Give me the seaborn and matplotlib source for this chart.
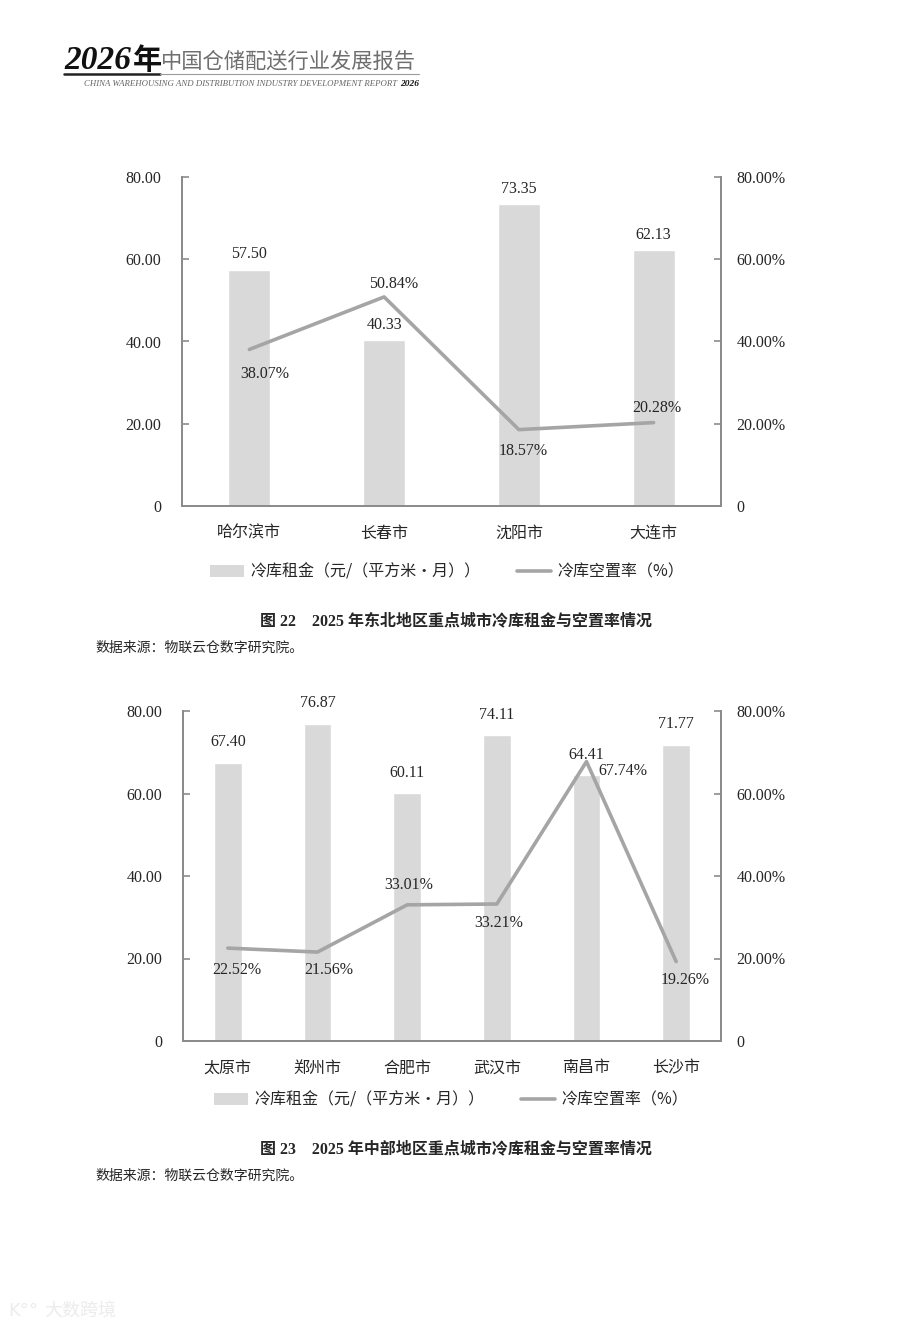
import numpy as np
import pandas as pd
import matplotlib
matplotlib.use("Agg")
import matplotlib.pyplot as plt
import seaborn as sns
from matplotlib.patches import Patch
from matplotlib.lines import Line2D
from matplotlib.ticker import FixedLocator

# ---------------- data ----------------
cities_ne = ["哈尔滨市", "长春市", "沈阳市", "大连市"]
rent_ne = [57.50, 40.33, 73.35, 62.13]
vacancy_ne = [38.07, 50.84, 18.57, 20.28]

cities_c = ["太原市", "郑州市", "合肥市", "武汉市", "南昌市", "长沙市"]
rent_c = [67.40, 76.87, 60.11, 74.11, 64.41, 71.77]
vacancy_c = [22.52, 21.56, 33.01, 33.21, 67.74, 19.26]

left_ticks = ["0", "20.00", "40.00", "60.00", "80.00"]
right_ticks = ["0", "20.00%", "40.00%", "60.00%", "80.00%"]
legend_bar = "冷库租金（元/（平方米·月））"
legend_line = "冷库空置率（%）"
caption_ne = "图 22　2025 年东北地区重点城市冷库租金与空置率情况"
caption_c = "图 23　2025 年中部地区重点城市冷库租金与空置率情况"
source_text = "数据来源：物联云仓数字研究院。"

# ---------------- style ----------------
sns.set_style("white")
FAM = ["Liberation Serif", "Noto Sans CJK SC", "DejaVu Sans"]
CJK = ["Noto Sans CJK SC", "DejaVu Sans"]
plt.rcParams["font.family"] = FAM
TXT = "#262626"
BAR = "#d9d9d9"
LINE = "#a5a5a5"
SPINE = "#8c8c8c"
FS = 11.5

W, H = 900, 1330
fig = plt.figure(figsize=(W / 100, H / 100), dpi=100)
fig.patch.set_facecolor("white")


def fx(x):
    return x / W


def fy(y):
    return 1 - y / H


def draw_chart(rect, cats, rent, vac, bar_pad, offsets, legend_xy, cap_y, src_y, caption):
    l, t, r, b = rect
    ax = fig.add_axes([fx(l), fy(b), (r - l) / W, (b - t) / H])
    df = pd.DataFrame({"city": cats, "rent": rent, "vac": vac})
    sns.barplot(data=df, x="city", y="rent", ax=ax, color=BAR, saturation=1,
                width=0.31, errorbar=None, order=cats)
    n = len(cats)
    ax.set_xlim(-0.5, n - 0.5)
    ax.set_ylim(0, 80)
    ax.set_xlabel("")
    ax.set_ylabel("")
    ax.set_yticks([0, 20, 40, 60, 80])
    ax.set_yticklabels(left_ticks, fontsize=FS, color=TXT, family=FAM)
    ax.tick_params(axis="y", direction="in", length=5, width=1.2, color=SPINE, pad=15)
    ax.set_xticks(range(n))
    ax.set_xticklabels(cats, fontsize=FS, color=TXT, family=FAM)
    ax.tick_params(axis="x", which="major", length=0, pad=14)
    ax.xaxis.set_minor_locator(FixedLocator([i + 0.5 for i in range(n - 1)]))
    ax.tick_params(axis="x", which="minor", direction="in", length=5, width=1.2, color=SPINE)
    for s in ["left", "bottom", "right"]:
        ax.spines[s].set_color(SPINE)
        ax.spines[s].set_linewidth(1.4)
    ax.spines["top"].set_visible(False)

    ax.bar_label(ax.containers[0], labels=[f"{v:.2f}" for v in rent], padding=bar_pad,
                 fontsize=FS, color=TXT, family=FAM)

    ax2 = ax.twinx()
    sns.lineplot(data=df, x="city", y="vac", ax=ax2, color=LINE, linewidth=2.6,
                 sort=False, legend=False)
    ax2.set_ylim(0, 80)
    ax2.set_xlim(-0.5, n - 0.5)
    ax2.set_ylabel("")
    ax2.set_yticks([0, 20, 40, 60, 80])
    ax2.set_yticklabels(right_ticks, fontsize=FS, color=TXT, family=FAM)
    ax2.tick_params(axis="y", direction="in", length=5, width=1.2, color=SPINE, pad=11)
    for s in ["left", "bottom", "right"]:
        ax2.spines[s].set_color(SPINE)
        ax2.spines[s].set_linewidth(1.4)
    ax2.spines["top"].set_visible(False)

    for i, (v, (dx, dy)) in enumerate(zip(vac, offsets)):
        ax2.annotate(f"{v:.2f}%", xy=(i, v), xytext=(dx * 0.72, dy * 0.72),
                     textcoords="offset points", ha="center", va="center",
                     fontsize=FS, color=TXT, family=FAM)

    handles = [Patch(facecolor=BAR, edgecolor="none"),
               Line2D([0], [0], color=LINE, linewidth=2.6)]
    fig.legend(handles, [legend_bar, legend_line], loc="center",
               bbox_to_anchor=(fx(legend_xy[0]), fy(legend_xy[1])), ncol=2,
               frameon=False, prop={"family": CJK, "size": FS},
               handlelength=2.1, handleheight=0.7, handletextpad=0.4,
               columnspacing=2.3, labelcolor=TXT)

    fig.text(fx(456), fy(cap_y), caption, ha="center", va="center", fontsize=FS,
             fontweight="bold", color=TXT, family=FAM)
    fig.text(fx(95), fy(src_y), source_text, ha="left", va="center", fontsize=10,
             color=TXT, family=FAM)
    return ax


# chart 1: north-east
draw_chart((182, 177, 721, 506), cities_ne, rent_ne, vacancy_ne, 5.5,
           [(15, -25), (9, 13), (4, -21), (3, 15)], (447, 572), 621, 648, caption_ne)

# chart 2: central
draw_chart((183, 711, 721, 1041), cities_c, rent_c, vacancy_c, 9,
           [(9, -22), (11, -18), (2, 20), (2, -19), (36, -9), (9, -18)],
           (451, 1100), 1149, 1176, caption_c)

# ---------------- header ----------------
fig.text(fx(64), fy(69), "2026", ha="left", va="baseline", fontsize=24,
         fontweight="bold", fontstyle="italic", family="Liberation Serif", color="#111111")
fig.text(fx(133), fy(69), "年", ha="left", va="baseline", fontsize=21,
         fontweight="bold", family="Noto Sans CJK SC", color="#111111")
fig.text(fx(161), fy(68), "中国仓储配送行业发展报告", ha="left", va="baseline",
         fontsize=15.3, family="Noto Sans CJK SC", color="#6f6f6f")
fig.add_artist(Line2D([fx(64), fx(160)], [fy(74), fy(74)], color="#222222",
                      linewidth=1.8, transform=fig.transFigure))
fig.add_artist(Line2D([fx(160), fx(419)], [fy(74), fy(74)], color="#9a9a9a",
                      linewidth=0.8, transform=fig.transFigure))
fig.text(fx(84), fy(84), "CHINA WAREHOUSING AND DISTRIBUTION INDUSTRY DEVELOPMENT REPORT",
         ha="left", va="center", fontsize=6.3, fontstyle="italic",
         family="Liberation Serif", color="#666666")
fig.text(fx(419), fy(84), "2026", ha="right", va="center", fontsize=6.8,
         fontstyle="italic", fontweight="bold", family="Liberation Serif", color="#111111")

# faint watermark
fig.text(fx(8), fy(1311), "K°°", ha="left", va="center", fontsize=13,
         color="#ececec", family="DejaVu Sans")
fig.text(fx(44), fy(1311), "大数跨境", ha="left", va="center", fontsize=13,
         color="#ececec", family="Noto Sans CJK SC")

fig.savefig("out.png", dpi=100, facecolor="white")
